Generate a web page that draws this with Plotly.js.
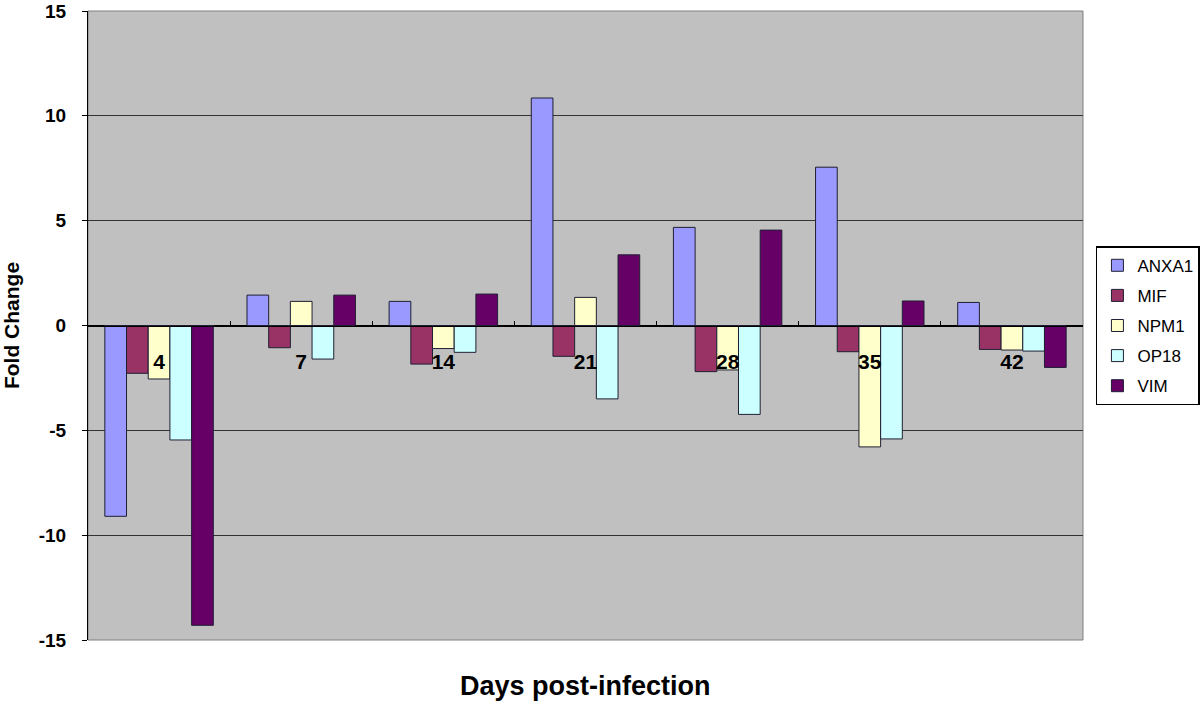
<!DOCTYPE html>
<html>
<head>
<meta charset="utf-8">
<script src="https://cdn.plot.ly/plotly-3.0.1.min.js"></script>
<style>html,body{margin:0;padding:0;background:#fff;}#chart{width:1200px;height:703px;}</style>
</head>
<body>
<div id="chart"></div>
<script>
const days = ["4", "7", "14", "21", "28", "35", "42"];
const seriesNames = ["ANXA1", "MIF", "NPM1", "OP18", "VIM"];
const ANXA1 = [-9.1, 1.45, 1.15, 10.85, 4.68, 7.55, 1.1];
const MIF   = [-2.28, -1.06, -1.84, -1.47, -2.2, -1.25, -1.14];
const NPM1  = [-2.55, 1.15, -1.1, 1.34, -2.12, -5.79, -1.17];
const OP18  = [-5.46, -1.6, -1.28, -3.5, -4.24, -5.41, -1.22];
const VIM   = [-14.3, 1.45, 1.5, 3.37, 4.55, 1.17, -2.0];
const yTickVals = [-15, -10, -5, 0, 5, 10, 15];
const yTickText = ["-15", "-10", "-5", "0", "5", "10", "15"];
const colors = ["#9999FF", "#993366", "#FFFFCC", "#CCFFFF", "#660066"];
const values = [ANXA1, MIF, NPM1, OP18, VIM];

const traces = seriesNames.map((name, i) => ({
  type: "bar",
  name: name,
  legendgroup: name,
  x: days,
  y: values[i],
  marker: {color: colors[i], line: {color: "#1f1f33", width: 1}},
  hoverinfo: "x+y+name"
}));

const font = "Arial, 'Liberation Sans', sans-serif";

const layout = {
  width: 1200, height: 703,
  margin: {l: 88, r: 117, t: 11, b: 63, autoexpand: false},
  paper_bgcolor: "#ffffff",
  plot_bgcolor: "#C0C0C0",
  barmode: "group",
  bargap: 0.237,
  bargroupgap: 0,
  showlegend: true,
  legend: {
    x: 1.013, xanchor: "left",
    y: 0.626, yanchor: "top",
    bgcolor: "#ffffff",
    bordercolor: "#000000", borderwidth: 1.5,
    font: {family: font, size: 17, color: "#000"},
    itemwidth: 20,
    tracegroupgap: 5
  },
  xaxis: {
    type: "category",
    anchor: "free",
    position: 0.5,
    showline: true, linecolor: "#000", linewidth: 1,
    ticks: "inside", ticklen: 5, tickcolor: "#000", tickwidth: 1,
    tickson: "boundaries",
    ticklabelstandoff: 17,
    tickfont: {family: font, size: 21, color: "#000", weight: "bold"},
    showgrid: false,
    zeroline: false,
    fixedrange: true
  },
  yaxis: {
    range: [-15, 15],
    tickvals: yTickVals,
    ticktext: yTickText.map(t => "<b>" + t + "</b>"),
    showline: true, linecolor: "#000", linewidth: 1,
    ticks: "outside", ticklen: 5, tickcolor: "#000",
    ticklabelstandoff: 12,
    tickfont: {family: font, size: 19, color: "#000", weight: "bold"},
    showgrid: true, gridcolor: "#333333", gridwidth: 1,
    zeroline: true, zerolinecolor: "#000", zerolinewidth: 1,
    title: {text: "Fold Change", font: {family: font, size: 21, color: "#000", weight: "bold"}, standoff: 16},
    fixedrange: true
  },
  shapes: [{
    type: "rect", xref: "paper", yref: "paper", x0: 0, x1: 1, y0: 0, y1: 1,
    line: {color: "#808080", width: 1}, fillcolor: "rgba(0,0,0,0)", layer: "below"
  }],
  annotations: [{
    text: "Days post-infection",
    xref: "paper", yref: "paper", x: 0.5, y: 0, yshift: -46,
    xanchor: "center", yanchor: "middle", showarrow: false,
    font: {family: font, size: 27, color: "#000", weight: "bold"}
  }]
};

Plotly.newPlot("chart", traces, layout, {displayModeBar: false, staticPlot: true});
</script>
</body>
</html>
